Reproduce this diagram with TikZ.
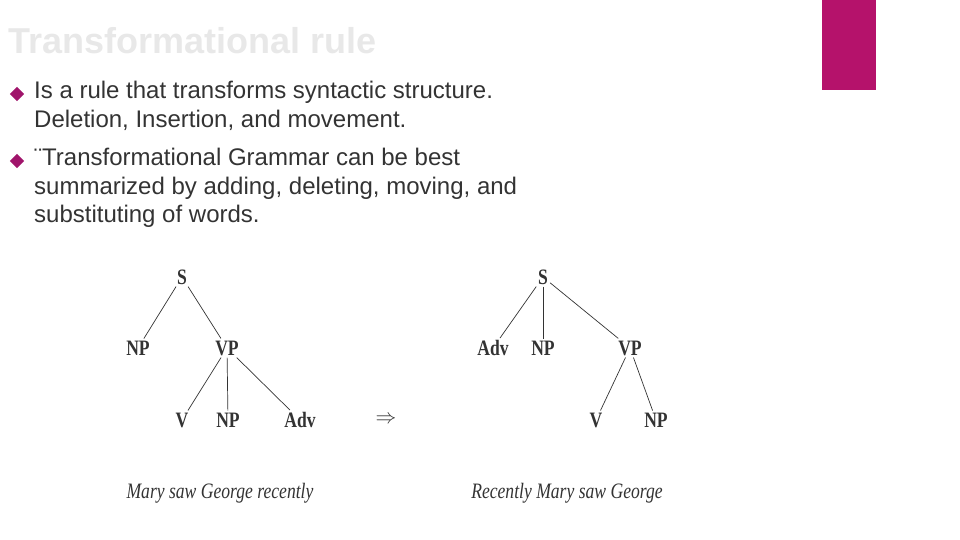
\documentclass[tikz,border=0pt]{standalone}
\usepackage{fontspec}
\setmainfont{Liberation Sans}
\newfontfamily\treefont[FakeStretch=0.8]{Liberation Serif}
\definecolor{mag}{HTML}{B5126B}
\definecolor{bul}{HTML}{A0146B}
\definecolor{txt}{HTML}{333333}
\begin{document}
\begin{tikzpicture}[x=1pt,y=-1pt,
  tl/.style={font=\treefont\bfseries\fontsize{22}{22}\selectfont, inner sep=2pt, text=txt},
  br/.style={draw=txt, line width=0.7pt},
  bt/.style={anchor=north west, align=left, text=txt, font=\fontsize{24}{28.5}\selectfont, inner sep=0pt},
  dia/.style={fill=bul, minimum size=10pt, inner sep=0pt, rotate=45}]
\useasboundingbox (0,0) rectangle (960,540);
\fill[mag] (822,0) rectangle (876,90);
\node[anchor=west, text=black!9, font=\bfseries\fontsize{36}{36}\selectfont, inner sep=0pt] (title) at (8,41) {Transformational rule};
\node[dia] (b1) at (17,94) {};
\node[bt] (t1) at (34,81) {Is a rule that transforms syntactic structure.\\Deletion, Insertion, and movement.};
\node[dia] (b2) at (17,161) {};
\node[bt] (t2) at (34,148) {¨Transformational Grammar can be best\\summarized by adding, deleting, moving, and\\substituting of words.};
% left tree
\node[tl] (s1) at (182,277) {S};
\node[tl] (np1) at (138,348) {NP};
\node[tl] (vp1) at (227,348) {VP};
\node[tl] (v1) at (182,420) {V};
\node[tl] (np2) at (228,420) {NP};
\node[tl] (adv1) at (300,420) {Adv};
\draw[br] (s1) -- (np1);
\draw[br] (s1) -- (vp1);
\draw[br] (vp1) -- (v1);
\draw[br] (vp1) -- (np2);
\draw[br] (vp1) -- (adv1);
\node[tl] (arr) at (386,420) {$\Rightarrow$};
\node[tl, font=\treefont\itshape\fontsize{22}{22}\selectfont] (sen1) at (220,493) {Mary saw George recently};
% right tree
\node[tl] (s2) at (543,277) {S};
\node[tl] (adv2) at (493,348) {Adv};
\node[tl] (np3) at (543,348) {NP};
\node[tl] (vp2) at (630,348) {VP};
\node[tl] (v2) at (596,420) {V};
\node[tl] (np4) at (656,420) {NP};
\draw[br] (s2) -- (adv2);
\draw[br] (s2) -- (np3);
\draw[br] (s2) -- (vp2);
\draw[br] (vp2) -- (v2);
\draw[br] (vp2) -- (np4);
\node[tl, font=\treefont\itshape\fontsize{22}{22}\selectfont] (sen2) at (567,493) {Recently Mary saw George};
\end{tikzpicture}
\end{document}
